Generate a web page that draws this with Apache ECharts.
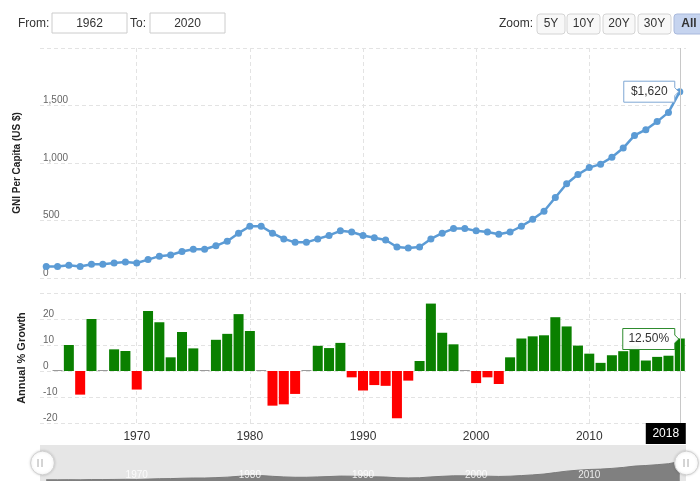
<!DOCTYPE html>
<html><head><meta charset="utf-8">
<script src="https://cdn.jsdelivr.net/npm/echarts@6/dist/echarts.min.js"></script>
<style>html,body{margin:0;padding:0;background:#fff}#c{width:700px;height:482px}</style>
</head><body><div id="c"></div>
<script>
const years = [1962,1963,1964,1965,1966,1967,1968,1969,1970,1971,
  1972,1973,1974,1975,1976,1977,1978,1979,1980,1981,
  1982,1983,1984,1985,1986,1987,1988,1989,1990,1991,
  1992,1993,1994,1995,1996,1997,1998,1999,2000,2001,
  2002,2003,2004,2005,2006,2007,2008,2009,2010,2011,
  2012,2013,2014,2015,2016,2017,2018];
const gniPerCapita = [100,100,110,100,120,120,130,140,130,160,
  190,200,230,250,250,280,320,390,450,450,
  390,340,310,310,340,370,410,400,370,350,
  330,270,260,270,340,390,430,430,410,400,
  380,400,450,510,580,700,820,900,960,990,
  1050,1130,1240,1290,1360,1440,1620];
const annualGrowth = [null,0,10.0,-9.09,20.0,0,8.33,7.69,-7.14,23.08,
  18.75,5.26,15.0,8.7,0,12.0,14.29,21.88,15.38,0,
  -13.33,-12.82,-8.82,0,9.68,8.82,10.81,-2.44,-7.5,-5.41,
  -5.71,-18.18,-3.7,3.85,25.93,14.71,10.26,0,-4.65,-2.44,
  -5.0,5.26,12.5,13.33,13.73,20.69,17.14,9.76,6.67,3.13,
  6.06,7.62,9.73,4.03,5.43,5.88,12.5];
const fromLabel = '1962';
const toLabel = '2020';
const zoomButtons = ['5Y','10Y','20Y','30Y','All'];

const FONT = '"Liberation Sans", Arial, sans-serif';
const lineData = years.map((y,i)=>[y,gniPerCapita[i]]);
const barData = [];
years.forEach((y,i)=>{ if(annualGrowth[i]!==null) barData.push([y,annualGrowth[i]]); });

const XMIN = 1961.45, XMAX = 2018.55;
const gridCommon = {left:40,right:14};
const dashed = {show:true,lineStyle:{color:'#e3e3e3',type:[4,3],width:1}};
function xAxisBase(gi, showLabels){
  return {type:'value',gridIndex:gi,min:XMIN,max:XMAX,
    axisLine:{show:false},axisTick:{show:false},
    splitLine:Object.assign({showMinLine:false,showMaxLine:false},dashed),
    axisLabel:{show:showLabels,showMinLabel:false,showMaxLabel:false,color:'#333',fontSize:12,fontFamily:FONT,margin:8,
      formatter:v=>(v%10===0?String(v):'')}};
}
const chart = echarts.init(document.getElementById('c'));

const uiGraphics = [];
uiGraphics.push({type:'text',style:{text:'From:',x:18,y:23.5,textVerticalAlign:'middle',font:'12px '+FONT,fill:'#333'}});
uiGraphics.push({type:'rect',shape:{x:52,y:13,width:75,height:20},style:{fill:'#fff',stroke:'#ccc',lineWidth:1}});
uiGraphics.push({type:'text',style:{text:fromLabel,x:89.5,y:23.5,textAlign:'center',textVerticalAlign:'middle',font:'12px '+FONT,fill:'#333'}});
uiGraphics.push({type:'text',style:{text:'To:',x:130,y:23.5,textVerticalAlign:'middle',font:'12px '+FONT,fill:'#333'}});
uiGraphics.push({type:'rect',shape:{x:150,y:13,width:75,height:20},style:{fill:'#fff',stroke:'#ccc',lineWidth:1}});
uiGraphics.push({type:'text',style:{text:toLabel,x:187.5,y:23.5,textAlign:'center',textVerticalAlign:'middle',font:'12px '+FONT,fill:'#333'}});
uiGraphics.push({type:'text',style:{text:'Zoom:',x:533,y:24,textAlign:'right',textVerticalAlign:'middle',font:'12px '+FONT,fill:'#333'}});
const btnX = [537,567,603,638,674], btnW=[28,33,32,33,30];
zoomButtons.forEach((b,i)=>{
  const active = b==='All';
  uiGraphics.push({type:'rect',shape:{x:btnX[i],y:14,width:btnW[i],height:20,r:3},
    style:{fill:active?'#c6d4ef':'#f8f8f8',stroke:active?'#a9b9dc':'#d4d4d4',lineWidth:1}});
  uiGraphics.push({type:'text',style:{text:b,x:btnX[i]+btnW[i]/2,y:24,textAlign:'center',textVerticalAlign:'middle',
    font:(active?'bold ':'')+'12px '+FONT,fill:'#333'}});
});
[40,686].forEach(hx=>{
  [-2,2].forEach(dx=>uiGraphics.push({type:'line',z:100,shape:{x1:hx+dx,y1:459,x2:hx+dx,y2:467},style:{stroke:'#aaa',lineWidth:1}}));
});

chart.setOption({
  animation:false,
  textStyle:{fontFamily:FONT},
  grid:[
    Object.assign({top:48,height:230},gridCommon),
    Object.assign({top:293,height:130},gridCommon),
    Object.assign({top:445,height:36,show:true,backgroundColor:'#e6e6e6',borderWidth:0},gridCommon)
  ],
  xAxis:[
    xAxisBase(0,false),
    xAxisBase(1,true),
    {type:'value',gridIndex:2,min:XMIN,max:XMAX,z:10,axisLine:{show:false},axisTick:{show:false},splitLine:{show:false},
      axisLabel:{show:true,inside:true,margin:1,showMinLabel:false,showMaxLabel:false,color:'rgba(255,255,255,0.85)',fontSize:10,fontFamily:FONT,
        formatter:v=>(v%10===0?String(v):'')}}
  ],
  yAxis:[
    {type:'value',gridIndex:0,min:0,max:2000,interval:500,
      name:'GNI Per Capita (US $)',nameLocation:'middle',nameGap:18,nameRotate:90,
      nameTextStyle:{fontWeight:'bold',fontSize:10,color:'#222',fontFamily:FONT},
      axisLine:{show:false},axisTick:{show:false},splitLine:dashed,
      axisLabel:{inside:true,verticalAlign:'bottom',margin:3,showMaxLabel:false,color:'#666',fontSize:10,fontFamily:FONT}},
    {type:'value',gridIndex:1,min:-20,max:30,interval:10,
      name:'Annual % Growth',nameLocation:'middle',nameGap:13,nameRotate:90,
      nameTextStyle:{fontWeight:'bold',fontSize:11,color:'#222',fontFamily:FONT},
      axisLine:{show:false},axisTick:{show:false},splitLine:dashed,
      axisLabel:{inside:true,verticalAlign:'bottom',margin:3,showMaxLabel:false,color:'#666',fontSize:10,fontFamily:FONT}},
    {type:'value',gridIndex:2,min:0,max:3000,show:false}
  ],
  dataZoom:[{type:'slider',xAxisIndex:[0,1],start:0,end:100,left:40,right:14,top:445,height:36,
    showDataShadow:false,showDetail:false,brushSelect:false,moveHandleSize:0,
    backgroundColor:'rgba(0,0,0,0)',fillerColor:'rgba(0,0,0,0)',borderColor:'rgba(0,0,0,0)',
    handleIcon:'circle',handleSize:'66%',
    handleStyle:{color:'#fff',borderColor:'#d0d0d0',borderWidth:1,shadowBlur:3,shadowColor:'rgba(0,0,0,0.15)'},
    filterMode:'none'}],
  series:[
    {type:'line',xAxisIndex:0,yAxisIndex:0,data:lineData,symbol:'circle',symbolSize:7,
      itemStyle:{color:'#5b9bd5'},lineStyle:{color:'#5b9bd5',width:2.5},z:3,
      markLine:{silent:true,symbol:'none',label:{show:false},lineStyle:{color:'#c8c8c8',type:'solid',width:1},data:[{xAxis:2018}]}},
    {type:'bar',xAxisIndex:1,yAxisIndex:1,data:barData,barWidth:10,barMinHeight:1,
      itemStyle:{color:p=>p.value[1]>0?'#0a8000':(p.value[1]<0?'#ff0000':'#9a9a9a')},
      markLine:{silent:true,symbol:'none',label:{show:false},lineStyle:{color:'#c8c8c8',type:'solid',width:1},data:[{xAxis:2018}]}},
    {type:'line',xAxisIndex:2,yAxisIndex:2,data:lineData,symbol:'none',silent:true,z:1,
      lineStyle:{color:'#7a7a7a',width:1},areaStyle:{color:'#808080',opacity:1}}
  ],
  graphic:uiGraphics
});

const lastYear = years[years.length-1];
const lastGni = gniPerCapita[gniPerCapita.length-1];
const lastGrowth = annualGrowth[annualGrowth.length-1];
const p1 = chart.convertToPixel({xAxisIndex:0,yAxisIndex:0},[lastYear,lastGni]);
const p2 = chart.convertToPixel({xAxisIndex:1,yAxisIndex:1},[lastYear,lastGrowth]);
const p0 = chart.convertToPixel({xAxisIndex:1,yAxisIndex:1},[lastYear,-20]);
function callout(px,py,w,text,stroke){
  const x1=px-5, x0=x1-w, y0=py-10.5, y1=py+10.5;
  return [
    {type:'polygon',z:50,shape:{points:[[x0,y0],[x1,y0],[x1,py-4],[px-1,py],[x1,py+4],[x1,y1],[x0,y1]]},
      style:{fill:'rgba(255,255,255,0.95)',stroke:stroke,lineWidth:1}},
    {type:'text',z:51,style:{text:text,x:(x0+x1)/2,y:py,textAlign:'center',textVerticalAlign:'middle',font:'12px '+FONT,fill:'#333'}}
  ];
}
const fmtMoney = '$'+lastGni.toLocaleString('en-US');
const fmtPct = lastGrowth.toFixed(2)+'%';
const ann = [].concat(
  callout(p1[0],p1[1],51,fmtMoney,'#7fa7d4'),
  callout(p2[0],p2[1]+0.5,52,fmtPct,'#2e8b2e'),
  [{type:'rect',z:50,shape:{x:p0[0]-34,y:p0[1],width:40,height:21},style:{fill:'#000'}},
   {type:'text',z:51,style:{text:String(lastYear),x:p0[0]-14,y:p0[1]+11,textAlign:'center',textVerticalAlign:'middle',font:'12px '+FONT,fill:'#fff'}}]
);
chart.setOption({graphic:uiGraphics.concat(ann)});
</script></body></html>
